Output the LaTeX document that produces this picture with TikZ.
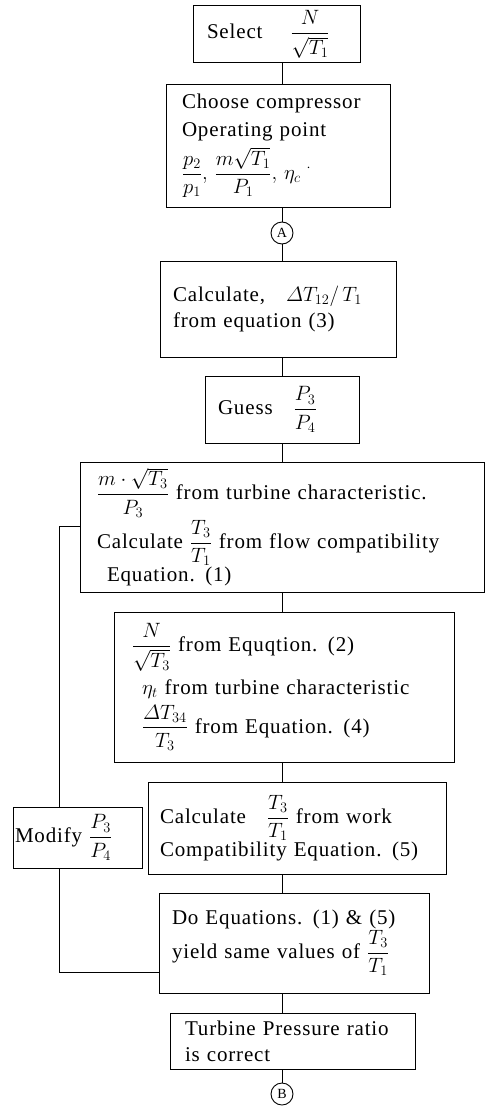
\documentclass[tikz,border=0pt]{standalone}
\usepackage{amsmath}
\usepackage{fontspec}
\setmainfont{Liberation Serif}[LetterSpace=4,WordSpace=1.4]
\DeclareMathSizes{21}{21}{15}{11}
\tikzset{
  fbox/.style={draw, line width=1pt, align=left, inner ysep=0pt,
    font=\fontsize{21}{26}\selectfont},
  conn/.style={line width=1pt},
  joint/.style={draw, circle, line width=0.9pt, minimum size=22pt, inner sep=0pt,
    font=\fontsize{14}{14}\selectfont}
}
\begin{document}
\begin{tikzpicture}[x=1pt,y=-1pt]
\useasboundingbox (0,0) rectangle (487,1108);
\coordinate (sp) at (282,0);

\node[fbox, text width=139pt, inner xsep=14pt, minimum height=57pt] (b1) at (276.5,34.5)
  {Select\quad\ $\dfrac{N}{\sqrt{T_1}}$};

\node[fbox, text width=192pt, inner xsep=16pt, minimum height=123pt] (b2) at (278,145.5)
  {Choose compressor\\[2pt] Operating point\\[6pt]
   $\dfrac{p_2}{p_1},\,\dfrac{m\sqrt{T_1}}{P_1},\,\eta_c\;^{\cdot}$};

\node[joint] (A) at (282,233) {A};

\node[fbox, text width=210pt, inner xsep=13pt, minimum height=96pt] (b3) at (278,309)
  {Calculate,\quad$\varDelta T_{12}/\,T_1$\\ from equation (3)};

\node[fbox, text width=128pt, inner xsep=13pt, minimum height=67pt] (b4) at (282,409.5)
  {Guess\quad$\dfrac{P_3}{P_4}$};

\node[fbox, text width=370pt, inner xsep=17pt, minimum height=130pt] (b5) at (282,527)
  {$\dfrac{m\cdot\sqrt{T_3}}{P_3}$ from turbine characteristic.\\[2pt]
   Calculate $\dfrac{T_3}{T_1}$ from flow compatibility\\
   \hspace*{10pt}Equation. (1)};

\node[fbox, text width=304pt, inner xsep=18pt, minimum height=150pt] (b6) at (284,687)
  {$\dfrac{N}{\sqrt{T_3}}$ from Equqtion. (2)\\[8pt]
   \hspace*{10pt}$\eta_t$ from turbine characteristic\\[5pt]
   \hspace*{10pt}$\dfrac{\varDelta T_{34}}{T_3}$ from Equation. (4)};

\node[fbox, text width=274pt, inner xsep=12pt, minimum height=92pt] (b7) at (297,828)
  {Calculate\quad$\dfrac{T_3}{T_1}$ from work\\ Compatibility Equation. (5)};

\node[fbox, text width=125pt, inner xsep=2pt, minimum height=61pt] (mod) at (77.5,837.5)
  {Modify $\dfrac{P_3}{P_4}$};

\node[fbox, text width=244pt, inner xsep=13pt, minimum height=100pt] (b8) at (294,943)
  {Do Equations. (1) \& (5)\\ yield same values of $\dfrac{T_3}{T_1}$};

\node[fbox, text width=215pt, inner xsep=15pt, minimum height=56pt] (b9) at (292.5,1041)
  {Turbine Pressure ratio\\ is correct};

\node[joint] (B) at (282,1094) {B};

\draw[conn] (b1.south -| sp) -- (b2.north -| sp);
\draw[conn] (b2.south -| sp) -- (A.north);
\draw[conn] (A.south) -- (b3.north -| sp);
\draw[conn] (b3.south -| sp) -- (b4.north -| sp);
\draw[conn] (b4.south -| sp) -- (b5.north -| sp);
\draw[conn] (b5.south -| sp) -- (b6.north -| sp);
\draw[conn] (b6.south -| sp) -- (b7.north -| sp);
\draw[conn] (b7.south -| sp) -- (b8.north -| sp);
\draw[conn] (b8.south -| sp) -- (b9.north -| sp);
\draw[conn] (b9.south -| sp) -- (B.north);

\coordinate (f1) at (59,972);
\coordinate (f2) at (59,526);
\draw[conn] (f1 -| b8.west) -- (f1) -- (f1 |- mod.south);
\draw[conn] (f2 |- mod.north) -- (f2) -- (f2 -| b5.west);
\end{tikzpicture}
\end{document}
